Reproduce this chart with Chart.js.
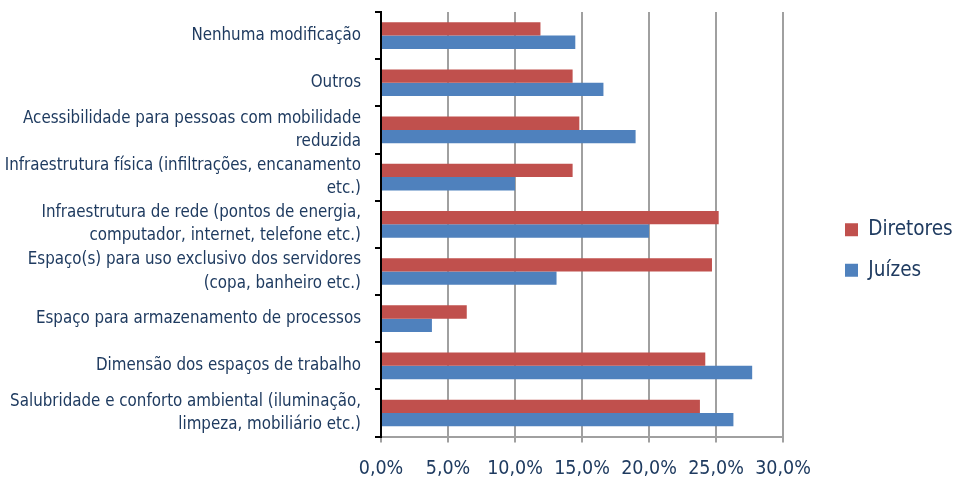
<!DOCTYPE html>
<html>
<head>
<meta charset="utf-8">
<script src="https://cdn.jsdelivr.net/npm/chart.js@4"></script>
<style>
  html, body { margin: 0; padding: 0; background: #fff; }
  #wrap { width: 955px; height: 485px; }
</style>
</head>
<body>
<div id="wrap"><canvas id="chart" width="955" height="485"></canvas></div>
<script>
var categorias = [
    'Nenhuma modificação',
    'Outros',
    ['Acessibilidade para pessoas com mobilidade', 'reduzida'],
    ['Infraestrutura física (infiltrações, encanamento', 'etc.)'],
    ['Infraestrutura de rede (pontos de energia,', 'computador, internet, telefone etc.)'],
    ['Espaço(s) para uso exclusivo dos servidores', '(copa, banheiro etc.)'],
    'Espaço para armazenamento de processos',
    'Dimensão dos espaços de trabalho',
    ['Salubridade e conforto ambiental (iluminação,', 'limpeza, mobiliário etc.)']
];
var diretores = [11.9, 14.3, 14.8, 14.3, 25.2, 24.7, 6.4, 24.2, 23.8];
var juizes = [14.5, 16.6, 19.0, 10.0, 20.0, 13.1, 3.8, 27.7, 26.3];
var xTicks = [0, 5, 10, 15, 20, 25, 30];

var textColor = '#1F3B60';
var fontFam = '"Liberation Sans Narrow", "DejaVu Sans Condensed", sans-serif';

// Mueve la leyenda hacia la derecha, separada del área del gráfico
var moverLeyenda = {
    id: 'moverLeyenda',
    afterLayout: function(chart) {
        var lg = chart.legend;
        if (!lg) return;
        lg.left = 825;
        lg.right = 955;
        lg.top -= 4;
        lg.bottom -= 4;
    }
};

new Chart(document.getElementById('chart').getContext('2d'), {
    type: 'bar',
    data: {
        labels: categorias,
        datasets: [{
            label: 'Diretores',
            data: diretores,
            backgroundColor: '#C0504D',
            borderWidth: 0
        }, {
            label: 'Juízes',
            data: juizes,
            backgroundColor: '#4F81BD',
            borderWidth: 0
        }]
    },
    plugins: [moverLeyenda],
    options: {
        indexAxis: 'y',
        responsive: false,
        animation: false,
        categoryPercentage: 0.565,
        barPercentage: 1.0,
        layout: {
            padding: { top: 12, bottom: -11, left: 0, right: -13 }
        },
        plugins: {
            tooltip: { enabled: false },
            legend: {
                position: 'right',
                labels: {
                    color: textColor,
                    font: { family: fontFam, size: 20.5 },
                    boxWidth: 13,
                    boxHeight: 13,
                    padding: 20
                }
            }
        },
        scales: {
            x: {
                min: 0,
                max: 30,
                afterBuildTicks: function(scale) {
                    scale.ticks = xTicks.map(function(v) { return { value: v }; });
                },
                afterFit: function(scale) {
                    scale.paddingRight = 172;
                },
                grid: {
                    color: '#A0A0A0',
                    lineWidth: 2,
                    tickLength: 6
                },
                border: { color: '#A0A0A0', width: 2 },
                ticks: {
                    color: textColor,
                    padding: 15,
                    font: { family: fontFam, size: 19.5 },
                    maxRotation: 0,
                    callback: function(value) {
                        return value.toFixed(1).replace('.', ',') + '%';
                    }
                }
            },
            y: {
                afterFit: function(scale) {
                    scale.width = 381;
                    scale.paddingTop = 0;
                    scale.paddingBottom = 0;
                },
                grid: {
                    drawOnChartArea: false,
                    color: '#000',
                    lineWidth: 2,
                    tickLength: 6
                },
                border: { color: '#000', width: 2 },
                ticks: {
                    color: textColor,
                    padding: 14,
                    autoSkip: false,
                    font: { family: fontFam, size: 16.8, lineHeight: 1.4 }
                }
            }
        }
    }
});
</script>
</body>
</html>
